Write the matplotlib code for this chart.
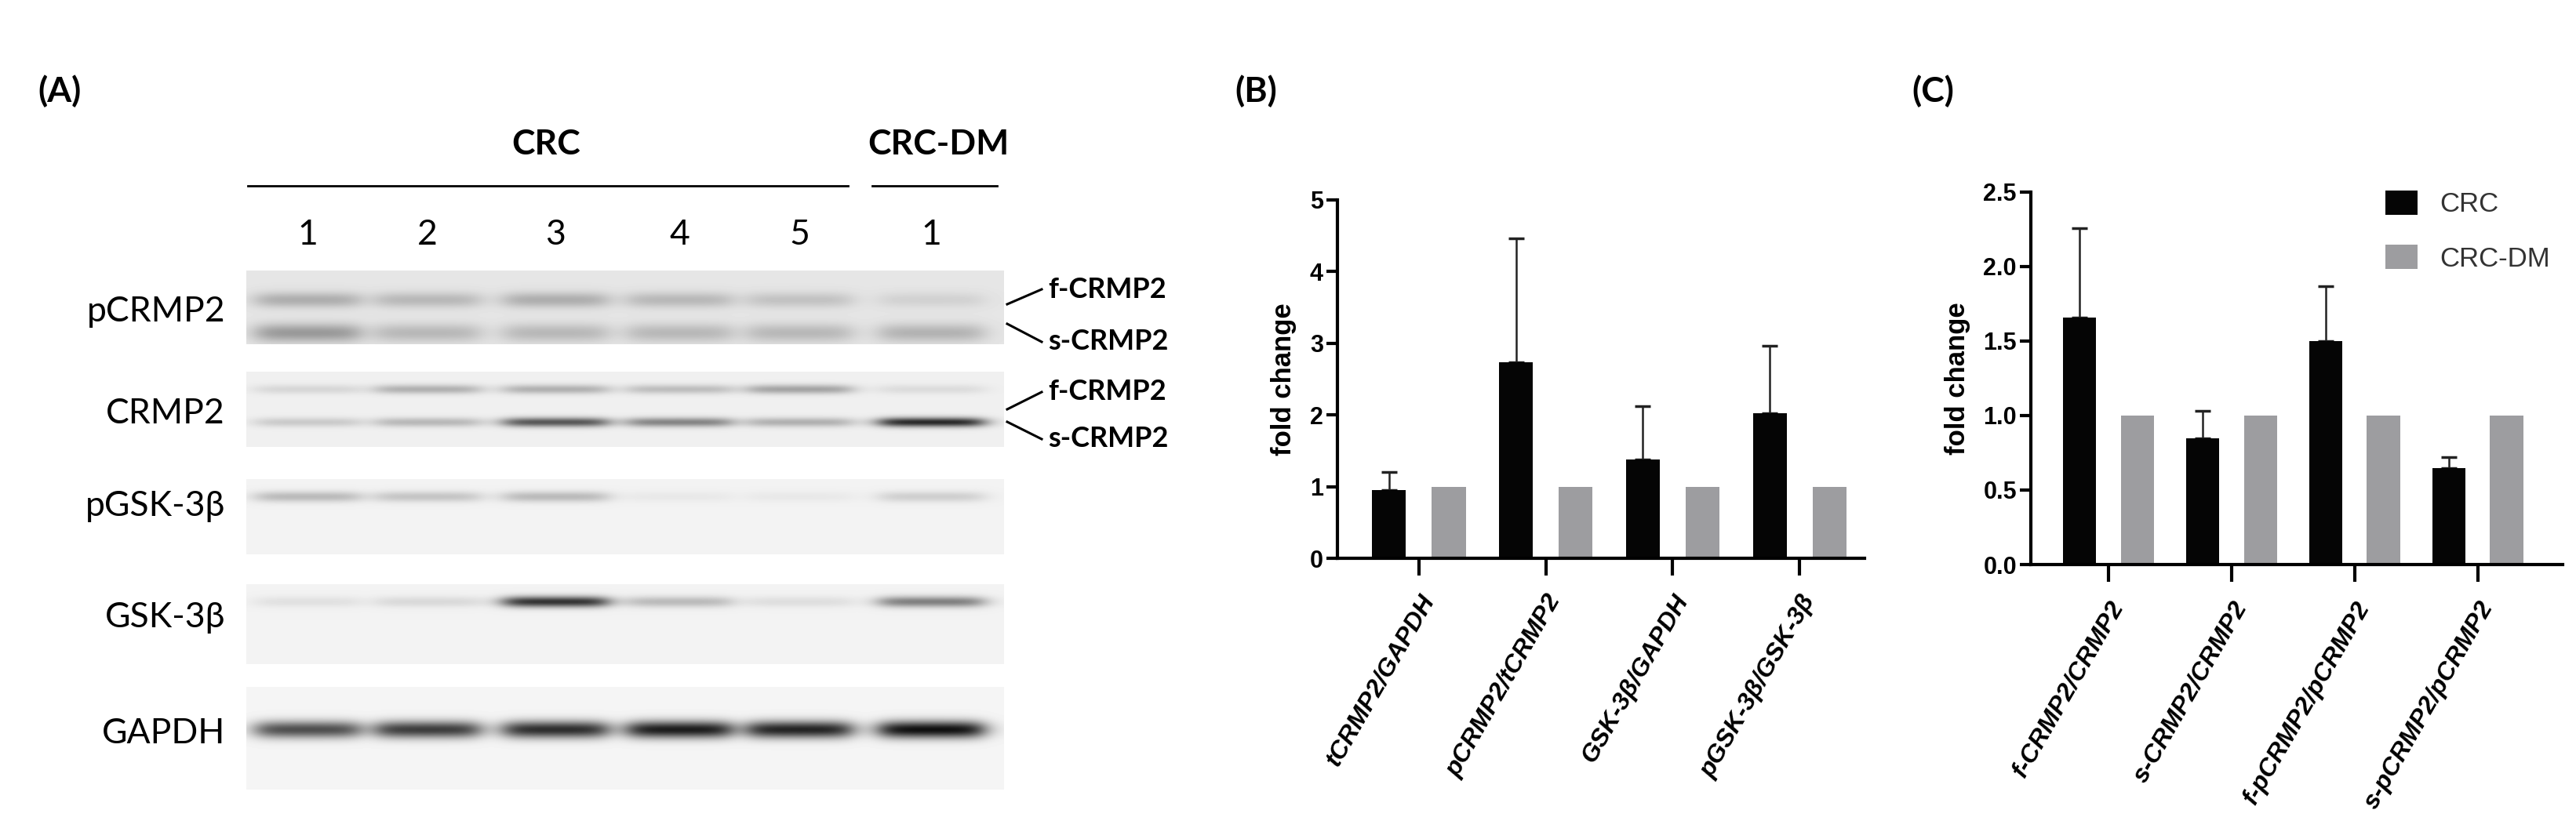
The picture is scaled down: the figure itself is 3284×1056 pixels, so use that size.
import numpy as np
import matplotlib
matplotlib.use("Agg")
import matplotlib.pyplot as plt

# ---------------- data ----------------
lanes_A = ["1", "2", "3", "4", "5", "1"]
blot_names = ["pCRMP2", "CRMP2", "pGSK-3β", "GSK-3β", "GAPDH"]
# band darkness per lane (0 = none, 1 = black)
pcrmp2_f = [0.22, 0.18, 0.22, 0.18, 0.14, 0.08]
pcrmp2_s = [0.30, 0.18, 0.18, 0.18, 0.18, 0.20]
crmp2_f = [0.10, 0.25, 0.25, 0.20, 0.30, 0.08]
crmp2_s = [0.15, 0.22, 0.60, 0.42, 0.25, 0.78]
pgsk = [0.22, 0.18, 0.22, 0.04, 0.04, 0.14]
gsk = [0.07, 0.10, 0.75, 0.22, 0.08, 0.45]
gapdh = [0.65, 0.72, 0.78, 0.85, 0.82, 0.90]

cats_B = ["tCRMP2/GAPDH", "pCRMP2/tCRMP2", "GSK-3β/GAPDH", "pGSK-3β/GSK-3β"]
crc_B = [0.95, 2.73, 1.38, 2.02]
crc_B_err = [0.25, 1.73, 0.74, 0.94]
dm_B = [1.0, 1.0, 1.0, 1.0]

cats_C = ["f-CRMP2/CRMP2", "s-CRMP2/CRMP2", "f-pCRMP2/pCRMP2", "s-pCRMP2/pCRMP2"]
crc_C = [1.66, 0.85, 1.50, 0.65]
crc_C_err = [0.60, 0.18, 0.37, 0.07]
dm_C = [1.0, 1.0, 1.0, 1.0]

W, H = 3284, 1056
fig = plt.figure(figsize=(W / 100, H / 100), dpi=100)
ov = fig.add_axes([0, 0, 1, 1])
ov.set_xlim(0, W); ov.set_ylim(H, 0); ov.axis("off")

fA = ["Lato", "DejaVu Sans"]
ov.text(48, 116, "(A)", fontsize=32, fontweight="bold", family=fA, va="center")
ov.text(696, 184, "CRC", fontsize=32, fontweight="bold", family=fA, ha="center", va="center")
ov.text(1196, 184, "CRC-DM", fontsize=32, fontweight="bold", family=fA, ha="center", va="center")
ov.plot([316, 1081], [237, 237], color="black", lw=2)
ov.plot([1112, 1271], [237, 237], color="black", lw=2)
lane_x = [392, 545, 708, 866, 1019, 1187]
for x, t in zip(lane_x, lanes_A):
    ov.text(x, 299, t, fontsize=32, family=fA, ha="center", va="center")

strips = [
    (345, 439, [(382, 10, pcrmp2_f), (424, 12, pcrmp2_s)], 0.90),
    (474, 570, [(496, 6, crmp2_f), (538, 6, crmp2_s)], 0.94),
    (611, 707, [(633, 7, pgsk)], 0.95),
    (745, 847, [(767, 7, gsk)], 0.95),
    (876, 1007, [(930, 11, gapdh)], 0.96),
]
label_y = [398, 527, 646, 787, 936]
x0, x1 = 314, 1280
xs = np.arange(x0, x1)
for (top, bot, bands, bg), name, ly in zip(strips, blot_names, label_y):
    ys = np.arange(top, bot)
    img = np.full((len(ys), len(xs)), bg)
    for yc, sy, inten in bands:
        for lx, v in zip(lane_x, inten):
            px = 1.0 / (1.0 + np.exp((np.abs(xs - lx) - 66) / 9.0))
            py = np.exp(-((ys - yc) / sy) ** 2)
            img -= v * np.outer(py, px)
    ov.imshow(np.clip(img, 0, 1), cmap="gray", vmin=0, vmax=1,
              extent=[x0, x1, bot, top], aspect="auto", interpolation="bilinear", zorder=1)
    ov.text(287, ly, name, fontsize=32, family=fA, ha="right", va="center")

for (a, b, txt) in [(388, 369, "f-CRMP2"), (413, 436, "s-CRMP2"),
                    (522, 500, "f-CRMP2"), (538, 560, "s-CRMP2")]:
    ov.plot([1284, 1328], [a, b], color="black", lw=2.2)
    ov.text(1336, b, txt, fontsize=26, fontweight="bold", family=fA, va="center")

ov.text(1574, 116, "(B)", fontsize=32, fontweight="bold", family=fA, va="center")
ov.text(2437, 116, "(C)", fontsize=32, fontweight="bold", family=fA, va="center")

# ---------------- bar charts ----------------
fN = ["Liberation Sans", "DejaVu Sans"]
black, grey = "#050505", "#9d9da0"

def bar_panel(rect, cats, crc, err, dm, ylim, yticks, ytl, xlim, legend=False):
    ax = fig.add_axes(rect)
    x = np.arange(len(cats))
    bw = 0.27
    ax.bar(x - 0.235, crc, bw, color=black, label="CRC", zorder=2)
    ax.bar(x + 0.235, dm, bw, color=grey, label="CRC-DM", zorder=2)
    ax.errorbar(x - 0.235, crc, yerr=[np.zeros(len(crc)), err], fmt="none",
                ecolor="#222222", elinewidth=1.8, capsize=7, capthick=2.5, zorder=1)
    ax.set_xlim(*xlim); ax.set_ylim(*ylim)
    for s in ["top", "right"]:
        ax.spines[s].set_visible(False)
    for s in ["left", "bottom"]:
        ax.spines[s].set_linewidth(3)
    ax.set_yticks(yticks)
    ax.set_yticklabels(ytl, fontsize=22, fontweight="bold", family=fN)
    ax.set_xticks(x)
    ax.set_xticklabels(cats, rotation=60, ha="right", rotation_mode="anchor",
                       fontsize=23, fontweight="bold", fontstyle="italic", family=fN)
    ax.tick_params(axis="y", width=3, length=10, pad=3)
    ax.tick_params(axis="x", width=3, length=16, pad=14)
    ax.set_ylabel("fold change", fontsize=25, fontweight="bold", family=fN, labelpad=12)
    if legend:
        ax.legend(loc="upper left", bbox_to_anchor=(0.62, 1.07), frameon=False,
                  prop={"family": fN, "size": 25}, handlelength=1.2, handleheight=1.0,
                  labelspacing=1.0, labelcolor="#333333")
    return ax

def rect(l, r, t, b):
    return [l / W, 1 - b / H, (r - l) / W, (b - t) / H]

bar_panel(rect(1705, 2377, 255, 712), cats_B, crc_B, crc_B_err, dm_B,
          (0, 5), [0, 1, 2, 3, 4, 5], ["0", "1", "2", "3", "4", "5"], (-0.64, 3.51))
bar_panel(rect(2589, 3267, 245, 720), cats_C, crc_C, crc_C_err, dm_C,
          (0, 2.5), [0, 0.5, 1, 1.5, 2, 2.5], ["0.0", "0.5", "1.0", "1.5", "2.0", "2.5"],
          (-0.63, 3.69), legend=True)

fig.savefig("out.png", dpi=100)
